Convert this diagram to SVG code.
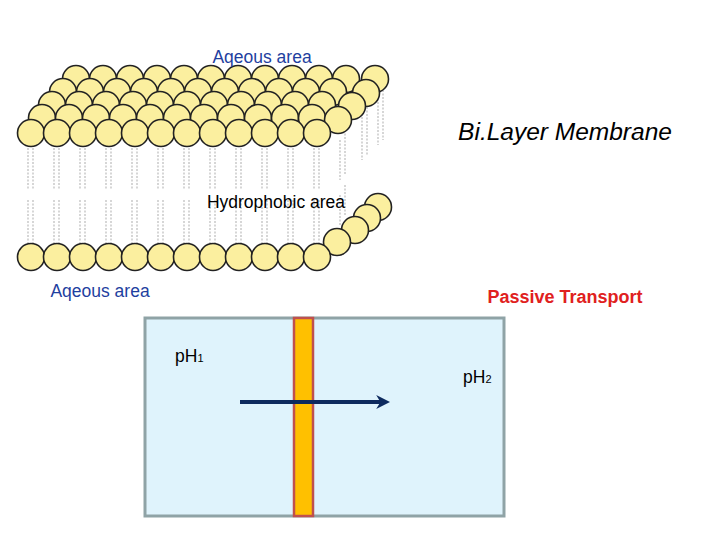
<svg xmlns="http://www.w3.org/2000/svg" width="720" height="540" viewBox="0 0 720 540">
<style>
.h{fill:#fbef9f;stroke:#222;stroke-width:1.6}
.t{stroke:#bbb;stroke-width:1.2;stroke-dasharray:2 1.5;fill:none}
.f{font-family:"Liberation Sans",Arial,sans-serif}
</style>
<defs>
<marker id="ar" viewBox="0 0 10 10" refX="7" refY="5" markerWidth="3.5" markerHeight="3.5" orient="auto"><path d="M0,0 L10,5 L0,10 L3,5 Z" fill="#0d2a5e"/></marker>
</defs>
<rect width="720" height="540" fill="#fff"/>
<g id="tails">
<path class="t" d="M28,148V190M33,148V190M54,148V190M59,148V190M80,148V190M85,148V190M106,148V190M111,148V190M132,148V190M137,148V190M158,148V190M163,148V190M184,148V190M189,148V190M210,148V190M215,148V190M236,148V190M241,148V190M262,148V190M267,148V190M288,148V190M293,148V190M314,148V190M319,148V190"/>
<path class="t" d="M28,200V244M33,200V244M54,200V244M59,200V244M80,200V244M85,200V244M106,200V244M111,200V244M132,200V244M137,200V244M158,200V244M163,200V244M184,200V244M189,200V244M210,200V244M215,200V244M236,200V244M241,200V244M262,200V244M267,200V244M288,200V244M293,200V244M314,200V244M319,200V244"/>
<path class="t" d="M340,140V180M345,130V175M362,110V160M367,100V155M378,95V145M383,90V140M340,195V225M345,185V215"/>
</g>
<g id="bilayer">
<g id="row4"><circle class="h" cx="76" cy="79" r="13.5"/><circle class="h" cx="103" cy="79" r="13.5"/><circle class="h" cx="130" cy="79" r="13.5"/><circle class="h" cx="157" cy="79" r="13.5"/><circle class="h" cx="184" cy="79" r="13.5"/><circle class="h" cx="211" cy="79" r="13.5"/><circle class="h" cx="238" cy="79" r="13.5"/><circle class="h" cx="265" cy="79" r="13.5"/><circle class="h" cx="292" cy="79" r="13.5"/><circle class="h" cx="319" cy="79" r="13.5"/><circle class="h" cx="346" cy="79" r="13.5"/><circle class="h" cx="375" cy="79" r="13.5"/></g>
<g id="row3"><circle class="h" cx="63" cy="92" r="13.5"/><circle class="h" cx="90" cy="92" r="13.5"/><circle class="h" cx="117" cy="92" r="13.5"/><circle class="h" cx="144" cy="92" r="13.5"/><circle class="h" cx="171" cy="92" r="13.5"/><circle class="h" cx="198" cy="92" r="13.5"/><circle class="h" cx="225" cy="92" r="13.5"/><circle class="h" cx="252" cy="92" r="13.5"/><circle class="h" cx="279" cy="92" r="13.5"/><circle class="h" cx="306" cy="92" r="13.5"/><circle class="h" cx="333" cy="92" r="13.5"/><circle class="h" cx="366" cy="93" r="13.5"/></g>
<g id="row2"><circle class="h" cx="52" cy="105" r="13.5"/><circle class="h" cx="79" cy="105" r="13.5"/><circle class="h" cx="106" cy="105" r="13.5"/><circle class="h" cx="133" cy="105" r="13.5"/><circle class="h" cx="160" cy="105" r="13.5"/><circle class="h" cx="187" cy="105" r="13.5"/><circle class="h" cx="214" cy="105" r="13.5"/><circle class="h" cx="241" cy="105" r="13.5"/><circle class="h" cx="268" cy="105" r="13.5"/><circle class="h" cx="295" cy="105" r="13.5"/><circle class="h" cx="322" cy="105" r="13.5"/><circle class="h" cx="352" cy="106" r="13.5"/></g>
<g id="row1"><circle class="h" cx="42" cy="118" r="13.5"/><circle class="h" cx="69" cy="118" r="13.5"/><circle class="h" cx="96" cy="118" r="13.5"/><circle class="h" cx="123" cy="118" r="13.5"/><circle class="h" cx="150" cy="118" r="13.5"/><circle class="h" cx="177" cy="118" r="13.5"/><circle class="h" cx="204" cy="118" r="13.5"/><circle class="h" cx="231" cy="118" r="13.5"/><circle class="h" cx="258" cy="118" r="13.5"/><circle class="h" cx="285" cy="118" r="13.5"/><circle class="h" cx="312" cy="118" r="13.5"/><circle class="h" cx="338" cy="120" r="13.5"/></g>
<g id="row0"><circle class="h" cx="31" cy="133" r="13.5"/><circle class="h" cx="57" cy="133" r="13.5"/><circle class="h" cx="83" cy="133" r="13.5"/><circle class="h" cx="109" cy="133" r="13.5"/><circle class="h" cx="135" cy="133" r="13.5"/><circle class="h" cx="161" cy="133" r="13.5"/><circle class="h" cx="187" cy="133" r="13.5"/><circle class="h" cx="213" cy="133" r="13.5"/><circle class="h" cx="239" cy="133" r="13.5"/><circle class="h" cx="265" cy="133" r="13.5"/><circle class="h" cx="291" cy="133" r="13.5"/><circle class="h" cx="317" cy="133" r="13.5"/></g>
<g id="bottom"><circle class="h" cx="378" cy="207" r="13.5"/><circle class="h" cx="367" cy="218" r="13.5"/><circle class="h" cx="355" cy="230" r="13.5"/><circle class="h" cx="337" cy="242" r="13.5"/><circle class="h" cx="31" cy="257" r="13.5"/><circle class="h" cx="57" cy="257" r="13.5"/><circle class="h" cx="83" cy="257" r="13.5"/><circle class="h" cx="109" cy="257" r="13.5"/><circle class="h" cx="135" cy="257" r="13.5"/><circle class="h" cx="161" cy="257" r="13.5"/><circle class="h" cx="187" cy="257" r="13.5"/><circle class="h" cx="213" cy="257" r="13.5"/><circle class="h" cx="239" cy="257" r="13.5"/><circle class="h" cx="265" cy="257" r="13.5"/><circle class="h" cx="291" cy="257" r="13.5"/><circle class="h" cx="317" cy="257" r="13.5"/></g>
</g>
<g id="labels" class="f">
<text x="262" y="63" font-size="17.5" fill="#1f3fa0" text-anchor="middle">Aqeous area</text>
<text x="565" y="140" font-size="24.5" font-style="italic" text-anchor="middle">Bi.Layer Membrane</text>
<text x="276" y="208" font-size="17.5" text-anchor="middle">Hydrophobic area</text>
<text x="100" y="297" font-size="17.5" fill="#1f3fa0" text-anchor="middle">Aqeous area</text>
<text x="565" y="303" font-size="18" font-weight="bold" fill="#e02020" text-anchor="middle">Passive Transport</text>
</g>
<g id="box">
<rect x="145" y="318" width="359" height="198" fill="#dff3fc" stroke="#8fa3a6" stroke-width="3"/>
</g>
<g id="membrane"><rect x="294" y="318" width="19" height="198" fill="#ffc000" stroke="#c0504d" stroke-width="2.5"/></g>
<g id="connectors"><line x1="240" y1="402" x2="386" y2="402" stroke="#0d2a5e" stroke-width="4" marker-end="url(#ar)"/></g>
<g id="ph" class="f" font-size="17.5">
<text x="175" y="362">pH<tspan font-size="11">1</tspan></text>
<text x="463" y="383">pH<tspan font-size="11">2</tspan></text>
</g>
</svg>
